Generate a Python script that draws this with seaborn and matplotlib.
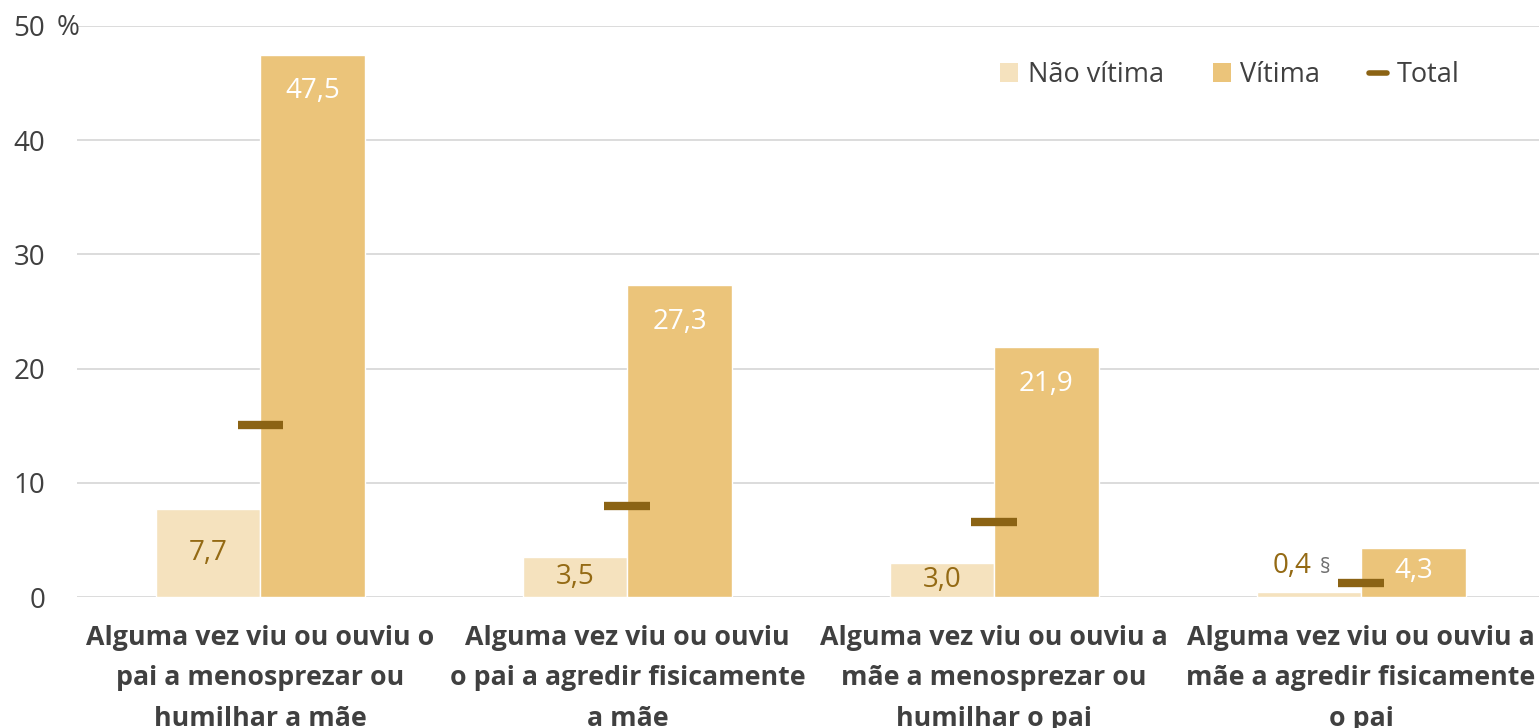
import matplotlib
matplotlib.use("Agg")
import matplotlib.pyplot as plt
import pandas as pd
import seaborn as sns
from matplotlib.patches import Patch
from matplotlib.lines import Line2D

# data
categories = [
    "Alguma vez viu ou ouviu o\npai a menosprezar ou\nhumilhar a mãe",
    "Alguma vez viu ou ouviu\no pai a agredir fisicamente\na mãe",
    "Alguma vez viu ou ouviu a\nmãe a menosprezar ou\nhumilhar o pai",
    "Alguma vez viu ou ouviu a\nmãe a agredir fisicamente\no pai",
]
nao_vitima = [7.7, 3.5, 3.0, 0.4]
vitima = [47.5, 27.3, 21.9, 4.3]
total = [15.1, 8.0, 6.6, 1.2]
series = ["Não vítima", "Vítima"]
yticks = [0, 10, 20, 30, 40, 50]

light = "#F5E2BE"
dark = "#EBC47A"
brown = "#946A14"
grey = "#404040"

sns.set_theme(style="white")
plt.rcParams["font.family"] = ["Open Sans", "DejaVu Sans"]

df = pd.DataFrame({
    "cat": categories * 2,
    "serie": [series[0]] * 4 + [series[1]] * 4,
    "valor": nao_vitima + vitima,
})

fig = plt.figure(figsize=(15.39, 7.28), dpi=100)
ax = fig.add_axes([77 / 1539, 1 - 597 / 728, 1 - 77 / 1539, (597 - 26) / 728])

sns.barplot(data=df, x="cat", y="valor", hue="serie", palette=[light, dark],
            width=0.57, saturation=1, legend=False, ax=ax, zorder=2)

ax.set_ylim(0, 50)
ax.set_xlim(-0.5, 3.485)
ax.set_yticks(yticks)
ax.set_yticklabels([str(t) for t in yticks])
ax.grid(axis="y", color="#D9D9D9", linewidth=1.3, zorder=0)
ax.set_axisbelow(True)
for s in ax.spines.values():
    s.set_visible(False)
ax.tick_params(axis="y", length=0, pad=23, labelsize=20, labelcolor=grey)
ax.tick_params(axis="x", length=0, pad=20, labelsize=19.3, labelcolor=grey)
for lab in ax.get_xticklabels():
    lab.set_fontweight("bold")
    lab.set_linespacing(1.72)
ax.set_xlabel("")
ax.set_ylabel("")
fig.text(57 / 1539, 1 - 28 / 728, "%", fontsize=20, color=grey, ha="left", va="center")

# bar value labels
cont_nv, cont_v = ax.containers[0], ax.containers[1]
for i, bar in enumerate(cont_nv):
    v = nao_vitima[i]
    x = bar.get_x() + bar.get_width() / 2
    if v < 1:
        ax.text(x - 0.045, 2.7, f"{v:.1f}".replace(".", ","), ha="center", va="center",
                fontsize=20, color=brown)
        ax.text(x + 0.03, 2.6, "§", ha="left", va="center", fontsize=15, color="#707070")
    else:
        ax.text(x, v / 2, f"{v:.1f}".replace(".", ","), ha="center", va="center",
                fontsize=20, color=brown)
for i, bar in enumerate(cont_v):
    v = vitima[i]
    x = bar.get_x() + bar.get_width() / 2
    off = 2.0 if v > 6 else 0.8
    ax.text(x, v - off, f"{v:.1f}".replace(".", ","), ha="center", va="top",
            fontsize=20, color="white")

# total markers
for i, t in enumerate(total):
    ax.hlines(t, i - 0.0625, i + 0.0625, color="#8B6314", linewidth=6, zorder=3)

handles = [
    Patch(facecolor=light, edgecolor="none", label=series[0]),
    Patch(facecolor=dark, edgecolor="none", label=series[1]),
    Line2D([0], [0], color="#8B6314", linewidth=4, label="Total"),
]
leg = fig.legend(handles=handles, loc="center left", bbox_to_anchor=(1000 / 1539, 1 - 75 / 728),
                 ncol=3, frameon=False, fontsize=19.5, handlelength=0.68, handleheight=0.68,
                 handletextpad=0.34, columnspacing=1.8, borderpad=0, borderaxespad=0,
                 labelcolor=grey)

fig.savefig("out.png", dpi=100)
